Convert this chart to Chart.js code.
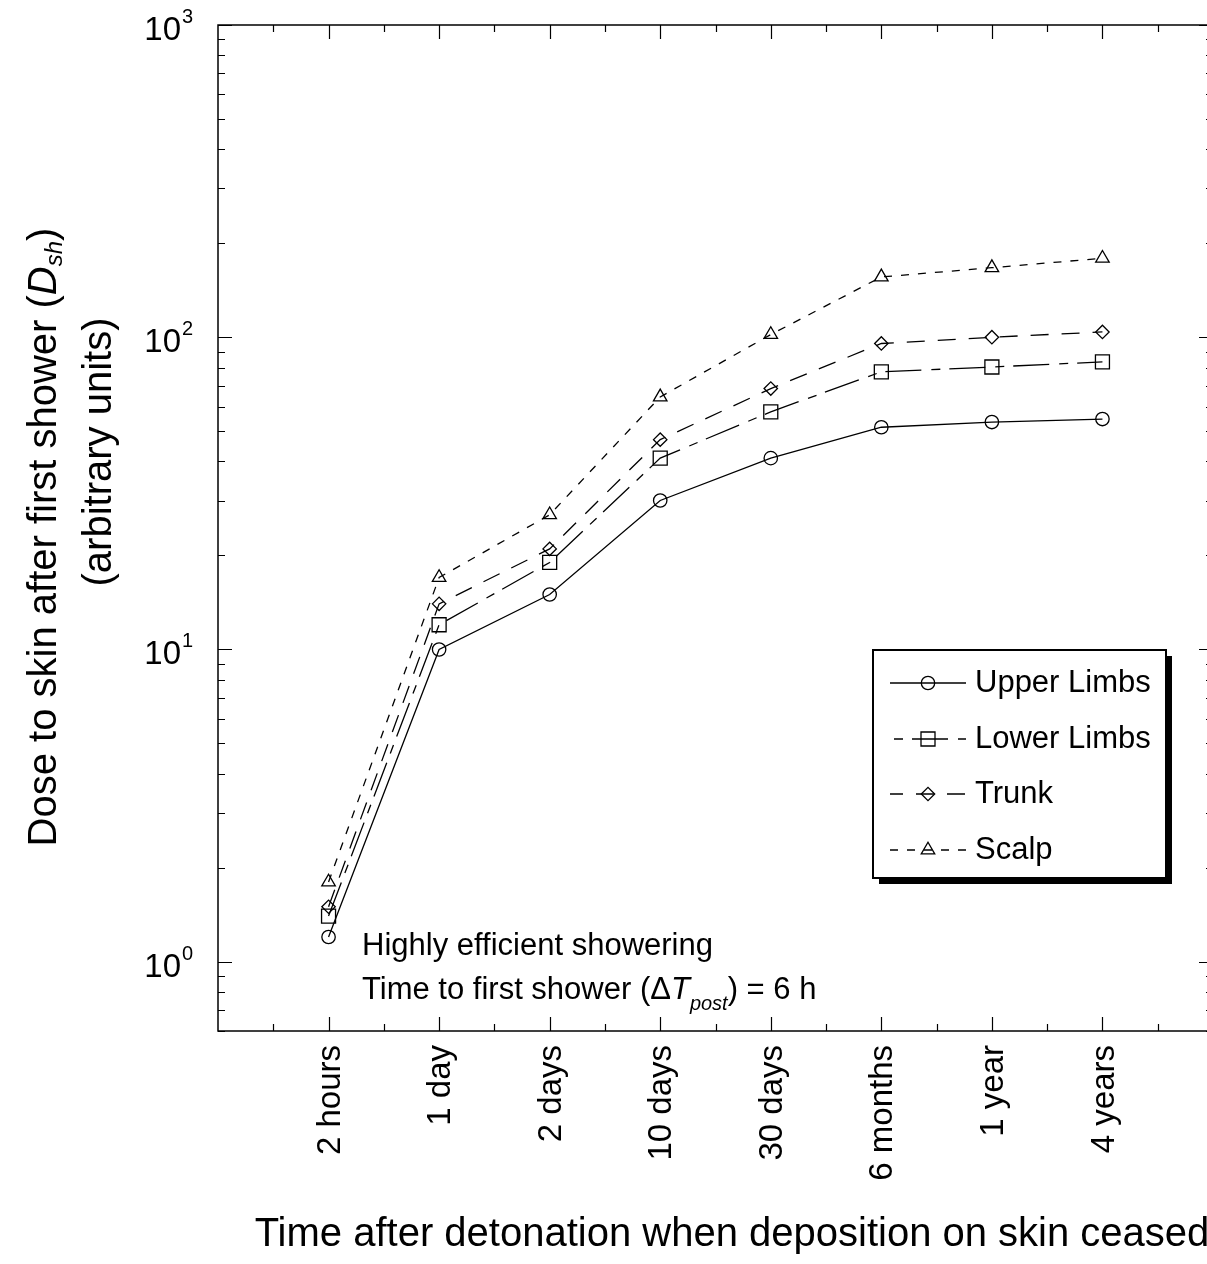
<!DOCTYPE html>
<html>
<head>
<meta charset="utf-8">
<script src="https://cdn.jsdelivr.net/npm/chart.js"></script>
<style>
  html, body { margin: 0; padding: 0; background: #fff; overflow: hidden; }
  #wrap { width: 1207px; height: 1264px; overflow: hidden; position: relative; }
  canvas { display: block; }
</style>
</head>
<body>
<div id="wrap"><canvas id="doseChart" width="1215" height="1264"></canvas></div>
<script>
// Datos (escala logarítmica)
const timeLabels = ['2 hours', '1 day', '2 days', '10 days', '30 days', '6 months', '1 year', '4 years'];
const upperLimbs = [1.2, 10, 15, 30, 41, 51.5, 53.5, 54.7];
const lowerLimbs = [1.4, 12, 19, 41, 57.7, 77.5, 80.3, 83.4];
const trunk = [1.5, 14, 21, 47, 68.5, 95.5, 100, 104];
const scalp = [1.8, 17, 27, 64.4, 102, 156, 167, 179];
const seriesNames = ['Upper Limbs', 'Lower Limbs', 'Trunk', 'Scalp'];
const yDecadeExp = [0, 1, 2, 3];

const FONT = '"Liberation Sans", Arial, Helvetica, sans-serif';

function toPoints(values) {
    return values.map((v, i) => ({ x: i + 1, y: v }));
}

function makeDataset(label, values, style, radius, dash) {
    return {
        label: label,
        data: toPoints(values),
        borderColor: '#000',
        borderWidth: 1.3,
        borderDash: dash,
        pointStyle: style,
        pointRadius: radius,
        pointHoverRadius: radius,
        pointBorderWidth: 1.3,
        pointBorderColor: '#000',
        pointBackgroundColor: 'rgba(0,0,0,0)',
        fill: false,
        tension: 0
    };
}

// Texto con estilos mezclados (cursiva, subíndice)
function drawRuns(ctx, runs, x, y, align) {
    let total = 0;
    runs.forEach(r => {
        ctx.font = (r.italic ? 'italic ' : '') + r.size + 'px ' + FONT;
        r.w = ctx.measureText(r.t).width;
        total += r.w;
    });
    let cx = align === 'center' ? x - total / 2 : x;
    ctx.textAlign = 'left';
    runs.forEach(r => {
        ctx.font = (r.italic ? 'italic ' : '') + r.size + 'px ' + FONT;
        ctx.fillText(r.t, cx, y + (r.dy || 0));
        cx += r.w;
    });
}

// Desfase del patrón de trazos en la leyenda
const legendDashOffset = [0, 42, 5, 0];

const framePlugin = {
    id: 'framePlugin',
    afterDraw(chart) {
        const ctx = chart.ctx;
        const a = chart.chartArea;
        const xs = chart.scales.x;
        const ys = chart.scales.y;
        ctx.save();
        ctx.strokeStyle = '#000';
        ctx.fillStyle = '#000';

        // Marco
        ctx.lineWidth = 1.5;
        ctx.strokeRect(a.left, a.top, a.right - a.left, a.bottom - a.top);

        // Marcas del eje X (arriba y abajo, hacia dentro)
        ctx.lineWidth = 1.2;
        ctx.beginPath();
        for (let v = 0.5; v < 9; v += 0.5) {
            const px = Math.round(xs.getPixelForValue(v)) + 0.5;
            const len = Number.isInteger(v) ? 14 : 7;
            ctx.moveTo(px, a.bottom); ctx.lineTo(px, a.bottom - len);
            ctx.moveTo(px, a.top); ctx.lineTo(px, a.top + len);
        }
        // Marcas del eje Y (log)
        for (let e = -1; e <= 3; e++) {
            for (let m = 1; m <= 9; m++) {
                const v = m * Math.pow(10, e);
                if (v < ys.min || v > ys.max) continue;
                const py = Math.round(ys.getPixelForValue(v)) + 0.5;
                const len = m === 1 ? 14 : 7;
                ctx.moveTo(a.left, py); ctx.lineTo(a.left + len, py);
                ctx.moveTo(a.right, py); ctx.lineTo(a.right - len, py);
            }
        }
        ctx.stroke();

        // Etiquetas del eje Y: 10^n
        ctx.textBaseline = 'alphabetic';
        yDecadeExp.forEach(e => {
            const py = ys.getPixelForValue(Math.pow(10, e));
            ctx.font = '33px ' + FONT;
            ctx.textAlign = 'right';
            ctx.fillText('10', 181, py + 15);
            ctx.font = '20px ' + FONT;
            ctx.textAlign = 'left';
            ctx.fillText(String(e), 182, py - 2);
        });

        // Etiquetas del eje X (giradas)
        ctx.font = '33px ' + FONT;
        ctx.textBaseline = 'middle';
        timeLabels.forEach((lab, i) => {
            const px = xs.getPixelForValue(i + 1);
            ctx.save();
            ctx.translate(px + 2, 1045);
            ctx.rotate(-Math.PI / 2);
            ctx.textAlign = 'right';
            ctx.fillText(lab, 0, 0);
            ctx.restore();
        });

        // Título eje X
        ctx.font = '40px ' + FONT;
        ctx.textAlign = 'center';
        ctx.fillText('Time after detonation when deposition on skin ceased', 732, 1235);

        // Título eje Y (dos líneas)
        ctx.save();
        ctx.translate(45, 537);
        ctx.rotate(-Math.PI / 2);
        ctx.textBaseline = 'middle';
        drawRuns(ctx, [
            { t: 'Dose to skin after first shower (', size: 40 },
            { t: 'D', size: 40, italic: true },
            { t: 'sh', size: 24, italic: true, dy: 10 },
            { t: ')', size: 40 }
        ], 0, 0, 'center');
        ctx.restore();
        ctx.save();
        ctx.translate(100, 452);
        ctx.rotate(-Math.PI / 2);
        ctx.textBaseline = 'middle';
        drawRuns(ctx, [{ t: '(arbitrary units)', size: 40 }], 0, 0, 'center');
        ctx.restore();

        // Anotación
        ctx.textBaseline = 'middle';
        drawRuns(ctx, [{ t: 'Highly efficient showering', size: 31 }], 362, 946, 'left');
        drawRuns(ctx, [
            { t: 'Time to first shower (\u0394', size: 31 },
            { t: 'T', size: 31, italic: true },
            { t: 'post', size: 20, italic: true, dy: 14 },
            { t: ') = 6 h', size: 31 }
        ], 362, 990, 'left');

        // Leyenda con sombra
        const lg = { left: 873, top: 650, right: 1166, bottom: 878 };
        const w = lg.right - lg.left, h = lg.bottom - lg.top;
        ctx.fillStyle = '#000';
        ctx.fillRect(lg.left + 6, lg.top + 6, w, h);
        ctx.fillStyle = '#fff';
        ctx.fillRect(lg.left, lg.top, w, h);
        ctx.lineWidth = 2;
        ctx.strokeRect(lg.left, lg.top, w, h);
        const rows = [683, 739, 794, 850];
        chart.data.datasets.forEach((ds, i) => {
            const y = rows[i];
            ctx.save();
            ctx.strokeStyle = '#000';
            ctx.lineWidth = ds.borderWidth;
            ctx.setLineDash(ds.borderDash);
            ctx.lineDashOffset = legendDashOffset[i];
            ctx.beginPath();
            ctx.moveTo(890, y); ctx.lineTo(966, y);
            ctx.stroke();
            ctx.setLineDash([]);
            ctx.fillStyle = 'rgba(0,0,0,0)';
            ctx.lineWidth = ds.pointBorderWidth;
            Chart.helpers.drawPoint(ctx, {
                pointStyle: ds.pointStyle,
                radius: ds.pointRadius,
                borderWidth: ds.pointBorderWidth,
                rotation: 0
            }, 928, y);
            ctx.restore();
            ctx.fillStyle = '#000';
            ctx.font = '31px ' + FONT;
            ctx.textAlign = 'left';
            ctx.textBaseline = 'middle';
            ctx.fillText(ds.label, 975, y);
        });
        ctx.restore();
    }
};

document.addEventListener('DOMContentLoaded', function() {
    new Chart(document.getElementById('doseChart'), {
        type: 'line',
        data: {
            datasets: [
                makeDataset(seriesNames[0], upperLimbs, 'circle', 6.7, []),
                makeDataset(seriesNames[1], lowerLimbs, 'rect', 9.9, [36, 10, 9, 9]),
                makeDataset(seriesNames[2], trunk, 'rectRot', 6.7, [18, 13]),
                makeDataset(seriesNames[3], scalp, 'triangle', 7.8, [8, 9])
            ]
        },
        options: {
            responsive: false,
            animation: false,
            events: [],
            layout: {
                autoPadding: false,
                padding: { left: 218, top: 25, right: 2, bottom: 233 }
            },
            plugins: {
                legend: { display: false },
                tooltip: { enabled: false }
            },
            scales: {
                x: { type: 'linear', min: 0, max: 9, display: false },
                y: { type: 'logarithmic', min: 0.6, max: 1000, display: false }
            }
        },
        plugins: [framePlugin]
    });
});
</script>
</body>
</html>
